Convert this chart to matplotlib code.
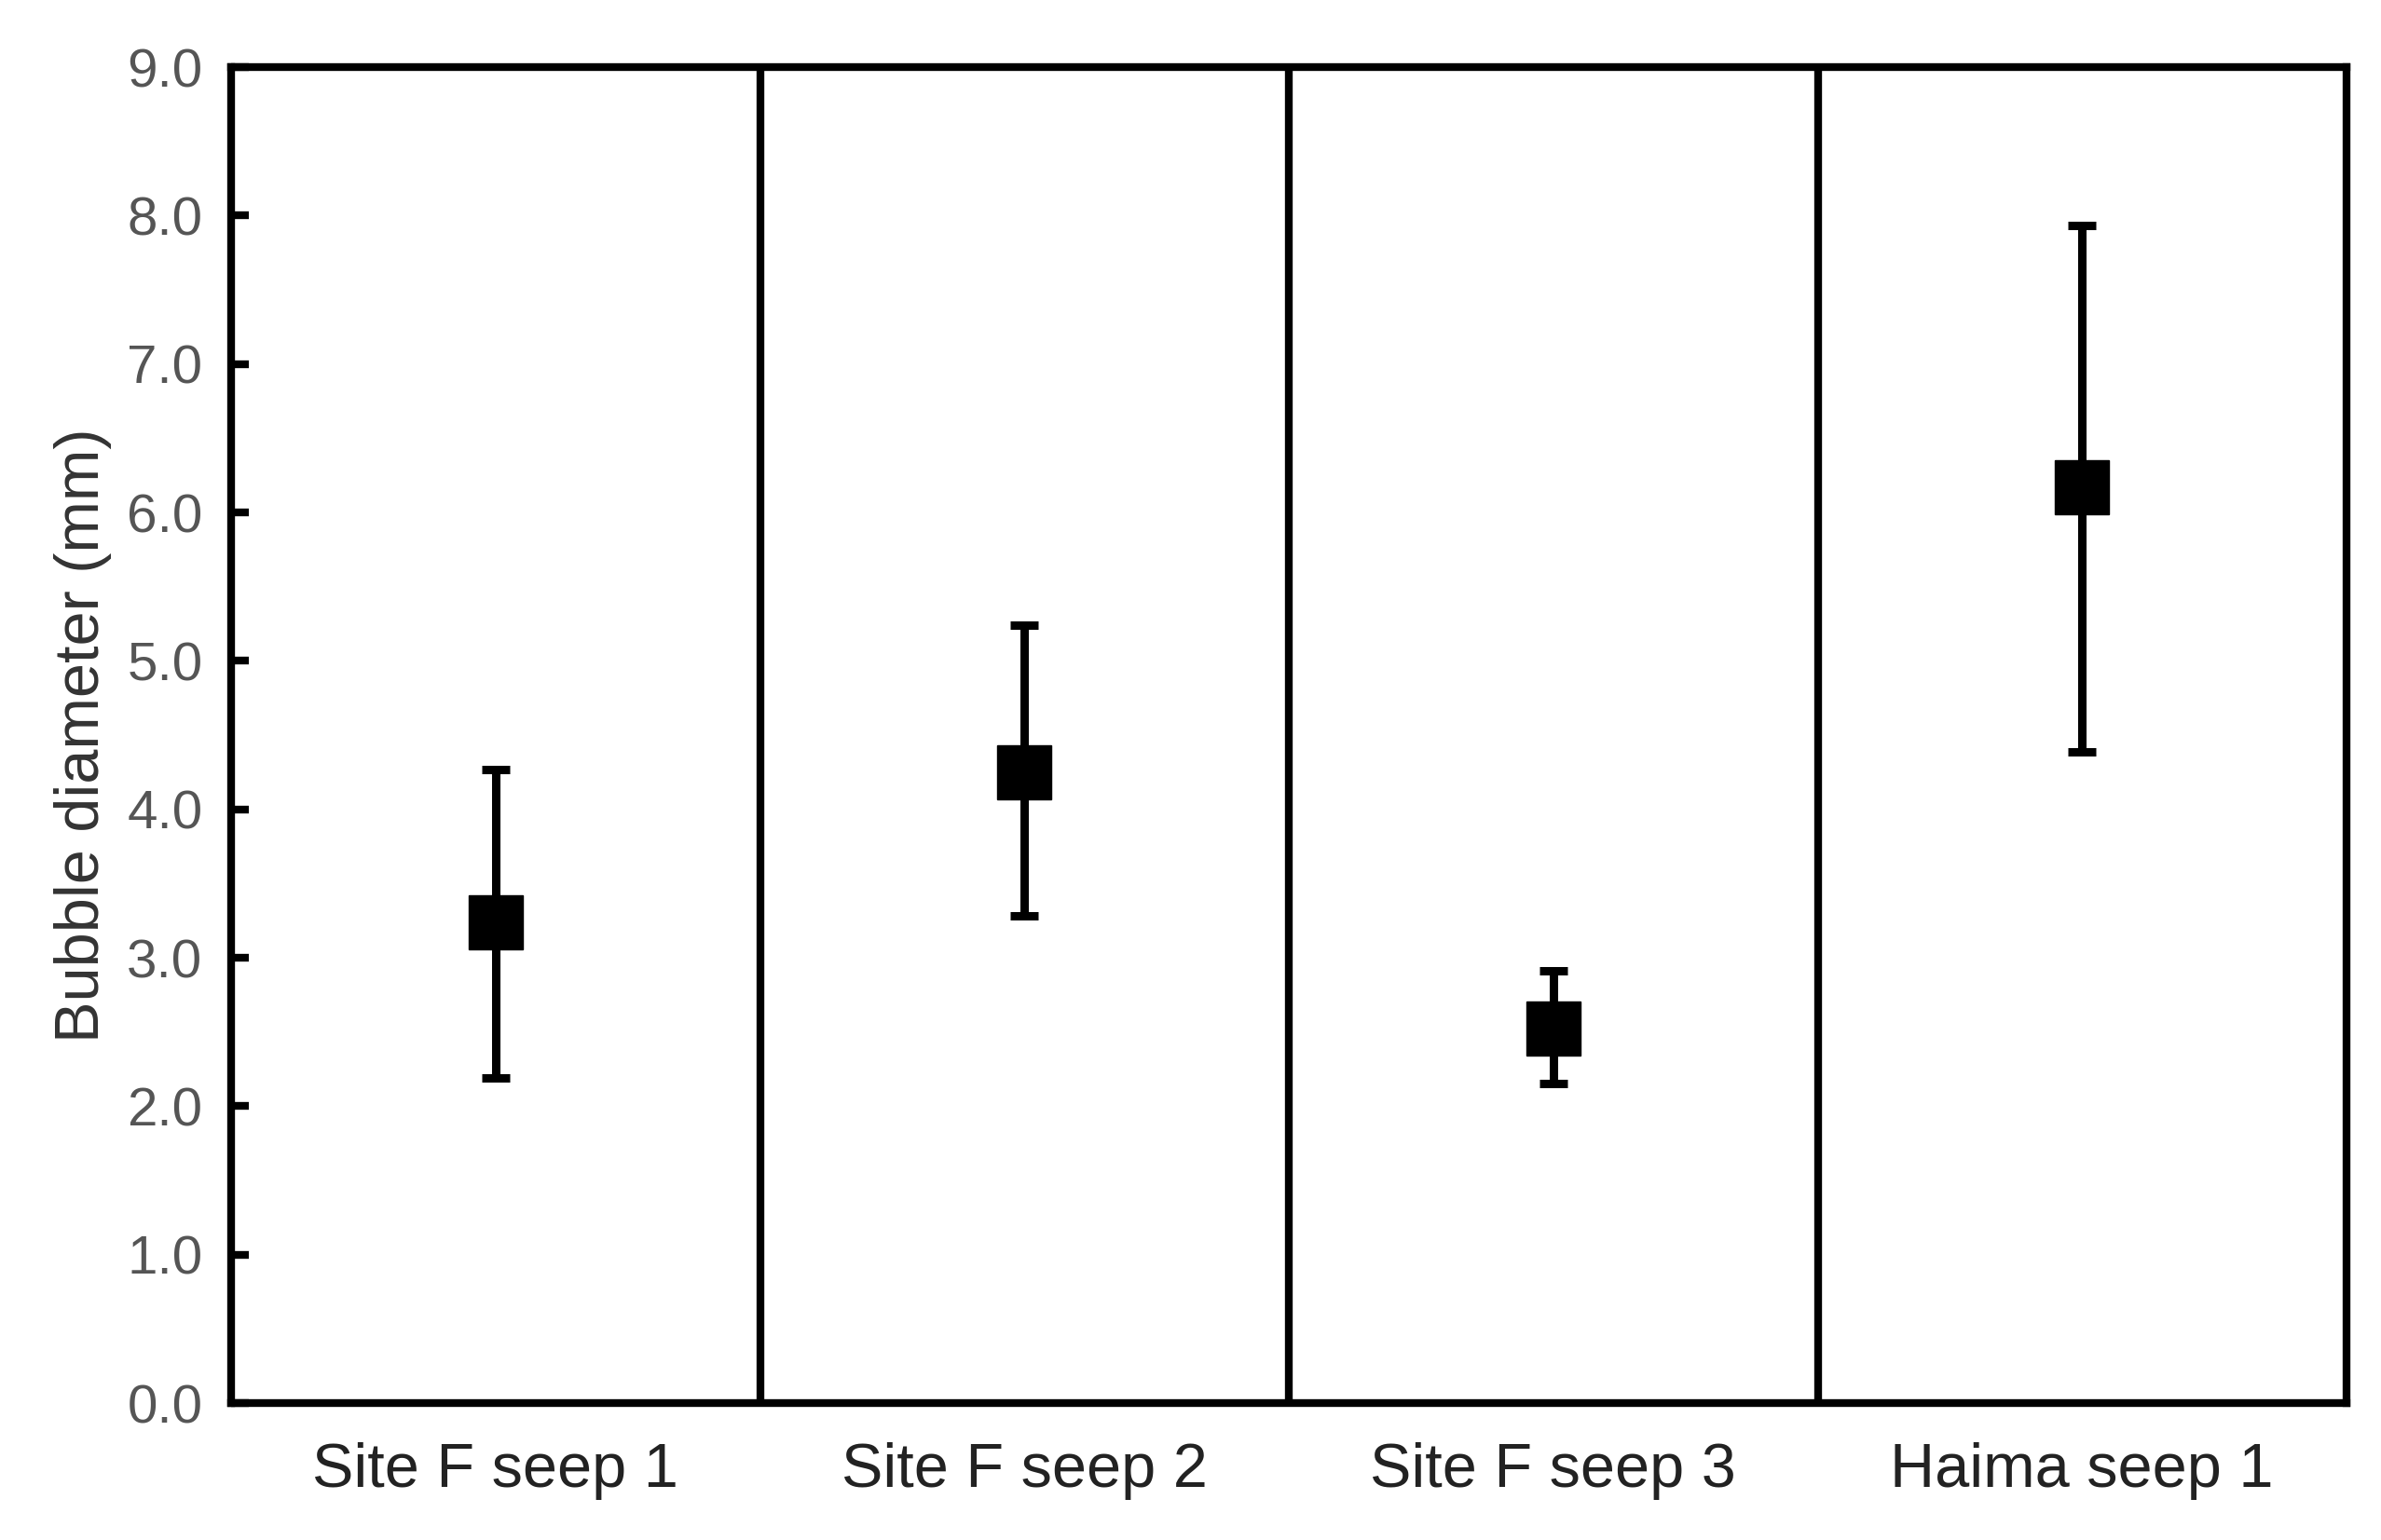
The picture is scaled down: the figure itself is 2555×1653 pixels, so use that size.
import matplotlib
matplotlib.use("Agg")
import matplotlib.pyplot as plt
from matplotlib import font_manager

names = {f.name for f in font_manager.fontManager.ttflist}
fam = "Liberation Sans Narrow" if "Liberation Sans Narrow" in names else "Liberation Sans"
plt.rcParams['font.family'] = [fam, 'DejaVu Sans']

sites = ["Site F seep 1", "Site F seep 2", "Site F seep 3", "Haima seep 1"]
mean_diam = [3.24, 4.25, 2.52, 6.17]
upper = [4.27, 5.24, 2.91, 7.93]
lower = [2.19, 3.28, 2.15, 4.39]
yticks = [0.0, 1.0, 2.0, 3.0, 4.0, 5.0, 6.0, 7.0, 8.0, 9.0]

fig = plt.figure(figsize=(25.55, 16.53), dpi=100)
ax = fig.add_axes([248/2555, 1 - 1506/1653, (2518-248)/2555, (1506-72)/1653])

x = list(range(1, len(sites) + 1))
err_lo = [m - l for m, l in zip(mean_diam, lower)]
err_hi = [u - m for m, u in zip(mean_diam, upper)]
ax.errorbar(x, mean_diam, yerr=[err_lo, err_hi], fmt='s', color='black',
            markersize=42, elinewidth=6.5, capsize=11, capthick=6.5, zorder=3)

for b in [1.5, 2.5, 3.5]:
    ax.axvline(b, color='black', linewidth=6, zorder=2)

ax.set_xlim(0.5, 4.5)
ax.set_ylim(0, 9)
ax.set_yticks(yticks)
ax.set_yticklabels([f"{v:.1f}" for v in yticks], color='#555555', fontsize=42)
ax.set_xticks(x)
ax.set_xticklabels(sites, fontsize=48, color='#222222')
ax.tick_params(axis='x', length=0, pad=30)
ax.tick_params(axis='y', direction='in', length=14, width=6, pad=22, left=True, right=False)
for s in ax.spines.values():
    s.set_linewidth(6)
ax.set_ylabel("Bubble diameter (mm)", fontsize=48, color='#333333', labelpad=12)

fig.savefig("out.png", dpi=100, facecolor='white')
